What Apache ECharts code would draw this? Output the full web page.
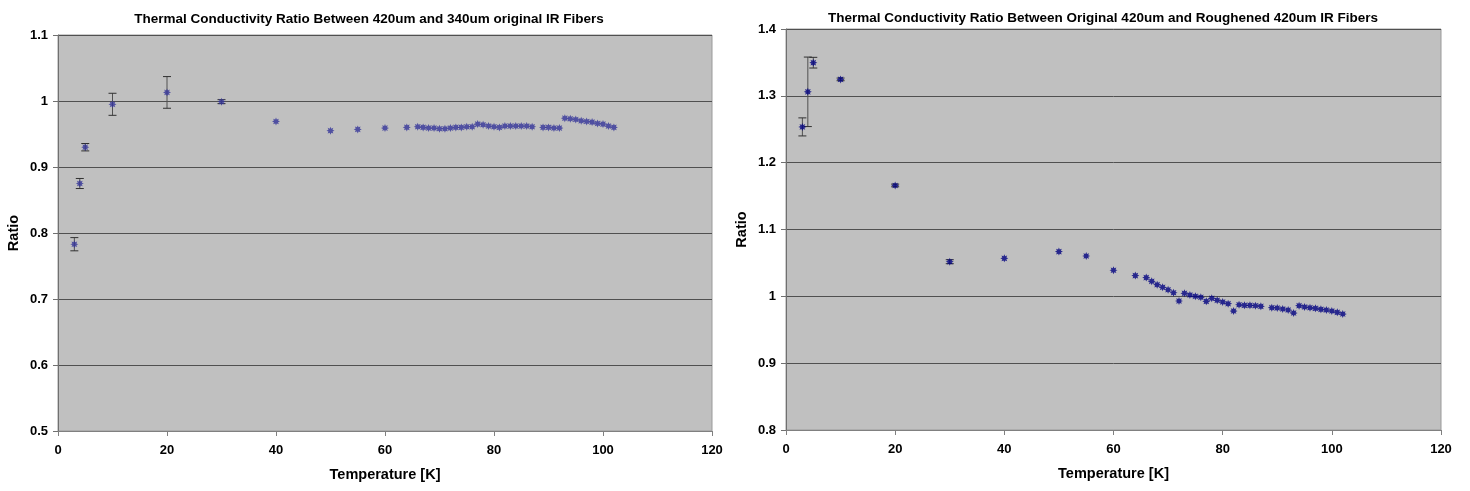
<!DOCTYPE html>
<html>
<head>
<meta charset="utf-8">
<script src="https://cdn.jsdelivr.net/npm/echarts@6/dist/echarts.min.js"></script>
<style>
  html, body { margin: 0; padding: 0; background: #ffffff; }
  #chart { width: 1470px; height: 491px; }
</style>
</head>
<body>
<div id="chart"></div>
<script>
// Temperatures [K] and conductivity ratios, 420um vs 340um original fibers
const leftTemps = [3, 4, 5, 10, 20, 30, 40, 50, 55, 60, 64,
  66, 67, 68, 69, 70, 71, 72, 73, 74, 75, 76, 77, 78, 79, 80, 81, 82, 83, 84, 85, 86, 87,
  89, 90, 91, 92, 93, 94, 95, 96, 97, 98, 99, 100, 101, 102];
const leftRatios = [0.783, 0.875, 0.930, 0.995, 1.013, 0.999, 0.969, 0.955, 0.957, 0.959, 0.960,
  0.961, 0.960, 0.959, 0.959, 0.958, 0.958, 0.959, 0.960, 0.960, 0.961, 0.961, 0.965, 0.964, 0.962, 0.961, 0.960, 0.962, 0.962, 0.962, 0.962, 0.962, 0.961,
  0.960, 0.960, 0.959, 0.959, 0.974, 0.973, 0.972, 0.970, 0.969, 0.968, 0.966, 0.965, 0.962, 0.960];
const leftErrTemps = [3, 4, 5, 10, 20, 30];
const leftErrValues = [0.783, 0.875, 0.930, 0.995, 1.013, 0.999];
const leftErrSizes = [0.010, 0.0076, 0.0056, 0.0167, 0.024, 0.003];

// Original 420um vs roughened 420um fibers
const rightTemps = [3, 4, 5, 10, 20, 30, 40, 50, 55, 60, 64,
  66, 67, 68, 69, 70, 71, 72, 73, 74, 75, 76, 77, 78, 79, 80, 81, 82, 83, 84, 85, 86, 87,
  89, 90, 91, 92, 93, 94, 95, 96, 97, 98, 99, 100, 101, 102];
const rightRatios = [1.2535, 1.306, 1.3496, 1.3246, 1.1659, 1.0518, 1.0568, 1.0669, 1.0604, 1.039, 1.031,
  1.028, 1.0225, 1.0174, 1.0135, 1.0099, 1.0054, 0.993, 1.0045, 1.002, 1.000, 0.9985, 0.9925, 0.997, 0.994, 0.9915, 0.989, 0.978, 0.9874, 0.9865, 0.9865, 0.986, 0.985,
  0.983, 0.9825, 0.981, 0.9795, 0.975, 0.986, 0.984, 0.983, 0.982, 0.9805, 0.9795, 0.978, 0.976, 0.9735];
const rightErrTemps = [3, 4, 5, 10, 20, 30];
const rightErrValues = [1.2535, 1.306, 1.3496, 1.3246, 1.1659, 1.0518];
const rightErrSizes = [0.0135, 0.052, 0.008, 0.002, 0.002, 0.003];

const leftTitle = 'Thermal Conductivity Ratio Between 420um and 340um original IR Fibers';
const rightTitle = 'Thermal Conductivity Ratio Between Original 420um and Roughened 420um IR Fibers';

const FONT = '"Liberation Sans", Arial, sans-serif';

// eight-pointed star marker
const STAR = 'path://M4,0L2.03,0.84L2.83,2.83L0.84,2.03L0,4L-0.84,2.03L-2.83,2.83L-2.03,0.84L-4,0L-2.03,-0.84L-2.83,-2.83L-0.84,-2.03L0,-4L0.84,-2.03L2.83,-2.83L2.03,-0.84Z';

function zip(a, b) { return a.map((v, i) => [v, b[i]]); }

function errorData(ts, vs, es) {
  return ts.map((t, i) => [t, vs[i] - es[i], vs[i] + es[i]]);
}

function renderErrorBar(params, api) {
  const lo = api.coord([api.value(0), api.value(1)]);
  const hi = api.coord([api.value(0), api.value(2)]);
  const half = 4;
  const style = { stroke: '#303030', lineWidth: 1 };
  return {
    type: 'group',
    children: [
      { type: 'line', shape: { x1: lo[0], y1: lo[1], x2: hi[0], y2: hi[1] }, style: { stroke: '#505050', lineWidth: 1 } },
      { type: 'line', shape: { x1: lo[0] - half, y1: lo[1], x2: lo[0] + half, y2: lo[1] }, style },
      { type: 'line', shape: { x1: hi[0] - half, y1: hi[1], x2: hi[0] + half, y2: hi[1] }, style }
    ]
  };
}

function xAxisFor(idx) {
  return {
    gridIndex: idx, type: 'value', min: 0, max: 120, interval: 20,
    name: 'Temperature [K]', nameLocation: 'middle', nameGap: 36,
    nameTextStyle: { fontFamily: FONT, fontWeight: 'bold', fontSize: 14.5, color: '#000' },
    axisLine: { show: true, onZero: false, lineStyle: { color: '#808080', width: 1 } },
    axisTick: { show: true, length: 5, lineStyle: { color: '#808080' } },
    axisLabel: { fontFamily: FONT, fontWeight: 'bold', fontSize: 13, color: '#000', margin: 13 },
    splitLine: { show: false }
  };
}

function yAxisFor(idx, min, max) {
  return {
    gridIndex: idx, type: 'value', min: min, max: max, interval: 0.1,
    name: 'Ratio', nameLocation: 'middle', nameGap: 37,
    nameTextStyle: { fontFamily: FONT, fontWeight: 'bold', fontSize: 14.5, color: '#000' },
    axisLine: { show: true, lineStyle: { color: '#707070', width: 1 } },
    axisTick: { show: true, length: 5, lineStyle: { color: '#707070' } },
    axisLabel: { fontFamily: FONT, fontWeight: 'bold', fontSize: 13, color: '#000', margin: 10,
      formatter: v => String(Math.round(v * 10) / 10) },
    splitLine: { show: true, lineStyle: { color: '#505050', width: 1 } }
  };
}

const chart = echarts.init(document.getElementById('chart'), null, { renderer: 'canvas' });

chart.setOption({
  backgroundColor: '#ffffff',
  animation: false,
  title: [
    { text: leftTitle, left: 364, top: 7, textAlign: 'center',
      textStyle: { fontFamily: FONT, fontWeight: 'bold', fontSize: 13.5, color: '#000' } },
    { text: rightTitle, left: 1098, top: 6, textAlign: 'center',
      textStyle: { fontFamily: FONT, fontWeight: 'bold', fontSize: 13.5, color: '#000' } }
  ],
  grid: [
    { left: 58, right: 758, top: 35, bottom: 60, show: true, backgroundColor: '#c0c0c0', borderColor: '#9a9a9a', borderWidth: 1 },
    { left: 786, right: 29, top: 29, bottom: 61, show: true, backgroundColor: '#c0c0c0', borderColor: '#9a9a9a', borderWidth: 1 }
  ],
  xAxis: [xAxisFor(0), xAxisFor(1)],
  yAxis: [yAxisFor(0, 0.5, 1.1), yAxisFor(1, 0.8, 1.4)],
  series: [
    { type: 'custom', xAxisIndex: 0, yAxisIndex: 0, renderItem: renderErrorBar,
      data: errorData(leftErrTemps, leftErrValues, leftErrSizes), z: 2 },
    { type: 'scatter', xAxisIndex: 0, yAxisIndex: 0, symbol: STAR, symbolSize: 8,
      itemStyle: { color: '#333399' }, data: zip(leftTemps, leftRatios), z: 3 },
    { type: 'custom', xAxisIndex: 1, yAxisIndex: 1, renderItem: renderErrorBar,
      data: errorData(rightErrTemps, rightErrValues, rightErrSizes), z: 2 },
    { type: 'scatter', xAxisIndex: 1, yAxisIndex: 1, symbol: STAR, symbolSize: 8,
      itemStyle: { color: '#000080' }, data: zip(rightTemps, rightRatios), z: 3 }
  ]
});
</script>
</body>
</html>
